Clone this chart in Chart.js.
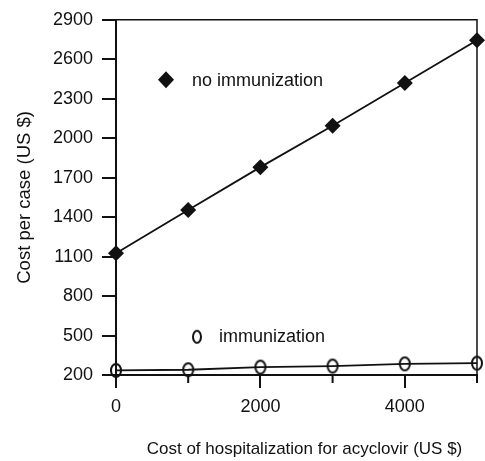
<!DOCTYPE html>
<html lang="en">
<head>
<meta charset="UTF-8">
<title>Cost per case</title>
<style>
  html, body { margin: 0; padding: 0; background: #fff; }
  #wrap { width: 485px; height: 461px; }
</style>
</head>
<body>
<div id="wrap">
  <canvas id="myChart" width="485" height="461"></canvas>
</div>

<script src="https://cdn.jsdelivr.net/npm/chart.js"></script>
<script>
  // data
  const hospCost = [0, 1000, 2000, 3000, 4000, 5000];
  const noImmunization = [1125, 1455, 1780, 2095, 2420, 2745];
  const immunization = [235, 240, 260, 268, 285, 290];
  const xTickLabels = ['0', '', '2000', '', '4000', ''];
  const yTickLabels = ['200', '500', '800', '1100', '1400', '1700', '2000', '2300', '2600', '2900'];
  const seriesNames = ['no immunization', 'immunization'];
  const xTitle = 'Cost of hospitalization for acyclovir (US $)';

  const ctx = document.getElementById('myChart');
  const FONT = 'Liberation Sans, Arial, Helvetica, sans-serif';

  // open ellipse marker (the "O" markers are taller than wide)
  function makeEllipse(w, h) {
    const c = document.createElement('canvas');
    c.width = w + 4;
    c.height = h + 4;
    const g = c.getContext('2d');
    g.beginPath();
    g.ellipse(c.width / 2, c.height / 2, w / 2, h / 2, 0, 0, Math.PI * 2);
    g.lineWidth = 2;
    g.strokeStyle = '#111';
    g.stroke();
    return c;
  }
  const ellipse = makeEllipse(10, 13);
  const smallEllipse = makeEllipse(8, 12);

  // top and right sides of the box, plus the short unlabeled x ticks
  const frame = {
    id: 'frame',
    beforeDatasetsDraw(chart) {
      const a = chart.chartArea;
      const c = chart.ctx;
      const xs = chart.scales.x;
      c.save();
      c.strokeStyle = '#111';
      c.lineWidth = 1.5;
      c.beginPath();
      c.moveTo(a.left - 14, a.top);
      c.lineTo(a.right, a.top);
      c.lineTo(a.right, a.bottom + 8);
      c.stroke();
      c.lineWidth = 2;
      c.beginPath();
      hospCost.forEach((v, i) => {
        if (xTickLabels[i] !== '') return;
        const px = xs.getPixelForValue(v);
        c.moveTo(px, a.bottom);
        c.lineTo(px, a.bottom + 8);
      });
      c.stroke();
      c.restore();
    }
  };

  // legend written inside the plot, and the x title (sits a bit right of centre)
  const innerLegend = {
    id: 'innerLegend',
    afterDraw(chart) {
      const a = chart.chartArea;
      const c = chart.ctx;
      c.save();
      c.fillStyle = '#111';
      c.font = '18px ' + FONT;
      c.textBaseline = 'middle';
      // diamond
      const dx = a.left + 50, dy = a.top + 60, r = 8;
      c.beginPath();
      c.moveTo(dx - r, dy);
      c.lineTo(dx, dy - r - 0.5);
      c.lineTo(dx + r, dy);
      c.lineTo(dx, dy + r + 0.5);
      c.closePath();
      c.fill();
      c.fillText(seriesNames[0], a.left + 76, dy + 1);
      // ellipse
      const ex = a.left + 81, ey = a.top + 317;
      c.drawImage(smallEllipse, ex - smallEllipse.width / 2, ey - smallEllipse.height / 2);
      c.fillText(seriesNames[1], a.left + 103, ey);
      // x title
      c.font = '17px ' + FONT;
      c.textAlign = 'center';
      c.fillText(xTitle, (a.left + a.right) / 2 + 8, chart.height - 12);
      c.restore();
    }
  };

  new Chart(ctx, {
    type: 'line',
    data: {
      datasets: [{
        label: seriesNames[0],
        data: hospCost.map((x, i) => ({x: x, y: noImmunization[i]})),
        borderColor: '#111',
        borderWidth: 1.8,
        backgroundColor: '#111',
        pointStyle: 'rectRot',
        pointRadius: 8,
        pointBorderWidth: 0,
        tension: 0,
        clip: false
      }, {
        label: seriesNames[1],
        data: hospCost.map((x, i) => ({x: x, y: immunization[i]})),
        borderColor: '#111',
        borderWidth: 1.8,
        pointStyle: ellipse,
        tension: 0,
        clip: false
      }]
    },
    options: {
      responsive: false,
      animation: false,
      layout: { padding: { top: 15, right: 6, left: 0, bottom: 0 } },
      plugins: {
        legend: { display: false },
        tooltip: { enabled: false }
      },
      scales: {
        x: {
          type: 'linear',
          min: 0,
          max: 5000,
          afterFit: s => { s.height = 86; },
          afterBuildTicks: s => { s.ticks = hospCost.map(v => ({value: v})); },
          ticks: {
            callback: (v, i) => xTickLabels[i],
            color: '#111',
            font: { family: FONT, size: 18 },
            padding: 8,
            maxRotation: 0,
            autoSkip: false
          },
          grid: {
            drawOnChartArea: false,
            color: '#111',
            tickColor: c => (xTickLabels[c.index] === '' ? 'rgba(0,0,0,0)' : '#111'),
            lineWidth: 2,
            tickLength: 13
          },
          border: { color: '#111', width: 2 }
        },
        y: {
          min: 200,
          max: 2900,
          afterFit: s => { s.width = 116; },
          afterBuildTicks: s => { s.ticks = yTickLabels.map(v => ({value: Number(v)})); },
          ticks: {
            callback: (v, i) => yTickLabels[i],
            color: '#111',
            font: { family: FONT, size: 18 },
            padding: 9,
            autoSkip: false
          },
          grid: { drawOnChartArea: false, color: '#111', lineWidth: 2, tickLength: 14 },
          border: { color: '#111', width: 2 },
          title: {
            display: true,
            text: 'Cost per case (US $)',
            color: '#111',
            font: { family: FONT, size: 18.5 },
            padding: { top: 14, bottom: 0 }
          }
        }
      }
    },
    plugins: [frame, innerLegend]
  });
</script>
</body>
</html>
